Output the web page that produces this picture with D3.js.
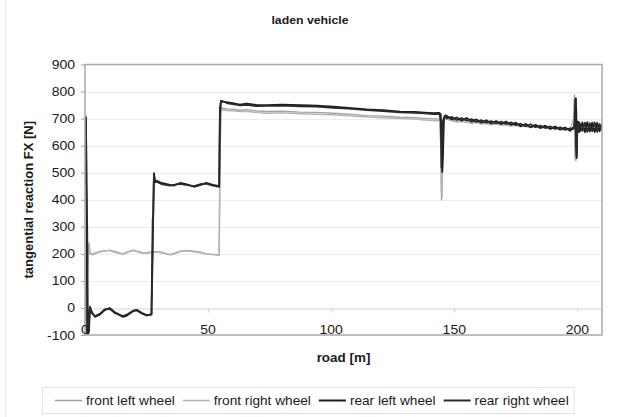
<!DOCTYPE html>
<html>
<head>
<meta charset="utf-8">
<script src="https://cdn.jsdelivr.net/npm/d3@7"></script>
<style>
  body { margin: 0; background: #fff; }
  text { font-family: "Liberation Sans", Arial, sans-serif; fill: #1a1a1a; }
</style>
</head>
<body>
<svg id="chart" width="620" height="417"></svg>
<script>
// road position [m], shared by all four wheels
const road = [0, 0.2, 0.4, 0.6, 0.9, 1.2, 1.6, 2, 2.8, 4, 6, 8, 10, 12, 15.4, 17, 19.5, 21, 23, 25,
  27, 27.5, 27.7, 28, 28.5, 29.3, 31, 34.5, 36, 38.6, 41, 44.3, 47, 49.2, 52, 54.5, 54.8, 55.2, 55.6, 58,
  60, 63, 65.7, 70, 73.9, 80, 87.4, 94, 100.8, 107, 114.5, 121, 128, 134, 138, 141.5, 144, 144.5, 144.8, 145.1,
  145.4, 145.8, 146.3, 147, 149, 151, 153, 155, 157, 159, 161, 163, 165, 167, 169, 171, 173, 175, 177, 179,
  181, 183, 185, 187, 189, 191, 193, 195, 197, 198.5, 198.8, 199.1, 199.4, 199.7, 200, 200.3, 200.6, 201, 202, 203,
  204, 205, 206, 207, 208, 209, 210];

// tangential reaction FX [N]
const frontLeft = [200, 150, -95, -90, 100, 180, 240, 205, 196, 200, 207, 210, 214, 209, 200, 205, 214, 210, 205, 203,
  206, 207, 206, 207, 206, 208, 206, 196, 199, 208, 213, 210, 206, 200, 198, 196, 560, 742, 738, 736,
  735, 731, 733, 728, 726, 727, 724, 723, 720, 716, 711, 709, 705, 703, 701, 699, 698, 640, 400, 520,
  690, 700, 703, 701, 696, 690, 693, 692, 686, 689, 684, 686, 681, 684, 679, 681, 676, 678, 673, 675,
  670, 673, 668, 670, 665, 668, 663, 665, 661, 664, 787, 548, 760, 560, 672, 655, 680, 658, 681, 655,
  679, 657, 682, 654, 678, 656, 676];

const frontRight = [210, 170, 120, -95, 60, 220, 235, 200, 198, 203, 209, 212, 212, 206, 199, 207, 212, 208, 203, 204,
  207, 205, 207, 206, 208, 207, 204, 198, 201, 210, 211, 208, 204, 199, 197, 195, 500, 735, 732, 730,
  729, 726, 727, 722, 720, 721, 718, 716, 714, 710, 706, 703, 700, 698, 695, 693, 692, 600, 430, 410,
  640, 695, 698, 697, 692, 687, 689, 686, 683, 685, 680, 682, 677, 680, 675, 677, 672, 675, 670, 672,
  667, 669, 664, 667, 662, 664, 660, 662, 658, 700, 770, 560, 545, 740, 660, 676, 652, 674, 654, 677,
  652, 675, 655, 678, 653, 674, 657];

const rearLeft = [710, 460, 705, 455, -95, -95, -90, 0, -15, -33, -25, -8, 0, -15, -33, -28, -12, -7, -18, -26,
  -25, 330, 340, 498, 465, 470, 462, 455, 452, 462, 458, 448, 455, 462, 455, 450, 700, 765, 763, 760,
  757, 752, 755, 750, 750, 752, 750, 748, 744, 740, 734, 731, 726, 725, 722, 720, 721, 715, 640, 503,
  560, 700, 712, 710, 697, 704, 693, 702, 689, 697, 685, 694, 682, 691, 680, 689, 677, 685, 672, 680,
  668, 677, 665, 674, 662, 671, 659, 667, 655, 668, 665, 700, 776, 554, 690, 655, 688, 652, 686, 650,
  687, 652, 685, 650, 684, 653, 682];

const rearRight = [705, 470, 690, 460, 300, -95, -60, 5, -20, -30, -22, -5, -3, -18, -30, -25, -10, -9, -20, -28,
  -23, 200, 335, 490, 470, 466, 458, 452, 455, 459, 455, 450, 458, 460, 452, 448, 740, 760, 766, 756,
  754, 749, 751, 746, 747, 748, 745, 744, 740, 737, 731, 728, 723, 721, 719, 717, 718, 690, 520, 600,
  690, 705, 706, 701, 706, 695, 702, 693, 698, 688, 694, 685, 691, 682, 689, 680, 686, 676, 681, 671,
  679, 668, 674, 665, 671, 662, 668, 658, 664, 662, 680, 770, 600, 560, 660, 684, 650, 682, 655, 685,
  651, 683, 654, 686, 651, 680, 656];

const seriesNames = ["front left wheel", "front right wheel", "rear left wheel", "rear right wheel"];
const seriesValues = [frontLeft, frontRight, rearLeft, rearRight];
const seriesColors = ["#a3a3a3", "#b3b3b3", "#1c1c1c", "#2a2a2a"];

const xTicks = [0, 50, 100, 150, 200];
const yTicks = [-100, 0, 100, 200, 300, 400, 500, 600, 700, 800, 900];

const svg = d3.select("#chart");
const plot = {left: 85, right: 602, top: 64.5, bottom: 335};
const stretch = 1.12;

// faint chart-area border
svg.append("line")
  .attr("x1", 5.5).attr("x2", 5.5).attr("y1", 0).attr("y2", 417)
  .attr("stroke", "#ececec");

const x = d3.scaleLinear().domain([0, 210]).range([plot.left, plot.right]);
const y = d3.scaleLinear().domain([-100, 900]).range([plot.bottom, plot.top]);

function label(g, tx, ty, str, size, weight, anchor) {
  return g.append("text")
    .attr("transform", `translate(${tx},${ty}) scale(${stretch},1)`)
    .attr("text-anchor", anchor || "middle")
    .style("font-size", size + "px")
    .style("font-weight", weight || "normal")
    .text(str);
}

// gridlines
svg.append("g")
  .selectAll("line")
  .data(yTicks.slice(1, -1))
  .join("line")
  .attr("x1", plot.left).attr("x2", plot.right)
  .attr("y1", d => Math.round(y(d)) + 0.5).attr("y2", d => Math.round(y(d)) + 0.5)
  .attr("stroke", "#ececec");

// x axis line at 0 with tick marks
const xAxis = svg.append("g")
  .attr("transform", `translate(0,${Math.round(y(0)) + 0.5})`)
  .call(d3.axisBottom(x).tickValues(xTicks.slice(1)).tickSize(4).tickFormat(""));
xAxis.select(".domain").attr("stroke", "#dcdcdc");
xAxis.selectAll(".tick line").attr("stroke", "#d0d0d0");

// y axis ticks
const yAxis = svg.append("g")
  .attr("transform", `translate(${plot.left},0)`)
  .call(d3.axisLeft(y).tickValues(yTicks).tickSize(4).tickFormat(""));
yAxis.select(".domain").remove();
yAxis.selectAll(".tick line").attr("stroke", "#a0a0a0");

// lines
const line = d3.line().x((d, i) => x(road[i])).y(d => y(d));
svg.append("clipPath").attr("id", "clip")
  .append("rect").attr("x", plot.left).attr("y", plot.top)
  .attr("width", plot.right - plot.left).attr("height", plot.bottom - plot.top);

svg.append("g").attr("clip-path", "url(#clip)")
  .selectAll("path")
  .data(seriesValues)
  .join("path")
  .attr("d", d => line(d))
  .attr("fill", "none")
  .attr("stroke", (d, i) => seriesColors[i])
  .attr("stroke-width", (d, i) => i < 2 ? 1.4 : 1.8)
  .attr("stroke-linejoin", "round");

// plot border
svg.append("rect")
  .attr("x", plot.left).attr("y", plot.top)
  .attr("width", plot.right - plot.left).attr("height", plot.bottom - plot.top)
  .attr("fill", "none").attr("stroke", "#a8a8a8").attr("stroke-width", 1.5);

// tick labels
yTicks.forEach(t => label(svg, 75, y(t) + 4.5, String(t), 12.5, "normal", "end"));
xTicks.forEach(t => label(svg, x(t), 334, String(t), 12.5, "normal", "middle"));

// titles
label(svg, 310, 24, "laden vehicle", 11, "bold");
label(svg, (plot.left + plot.right) / 2, 362, "road [m]", 12, "bold");
svg.append("text")
  .attr("transform", `translate(33,${(plot.top + plot.bottom) / 2}) rotate(-90)`)
  .attr("text-anchor", "middle")
  .style("font-size", "13px")
  .style("font-weight", "bold")
  .text("tangential reaction FX [N]");

// legend
const legend = svg.append("g");
const legendBox = legend.append("rect")
  .attr("fill", "none").attr("stroke", "#e2e2e2");
let lx = 55;
seriesNames.forEach((name, i) => {
  legend.append("line")
    .attr("x1", lx).attr("x2", lx + 27)
    .attr("y1", 400.5).attr("y2", 400.5)
    .attr("stroke", seriesColors[i]).attr("stroke-width", i < 2 ? 1.5 : 2);
  const t = label(legend, lx + 31, 405, name, 12.2, "normal", "start");
  lx += 31 + t.node().getComputedTextLength() * stretch + 8;
});
legendBox.attr("x", 42.5).attr("y", 387.5).attr("width", lx - 45).attr("height", 26);
</script>
</body>
</html>
